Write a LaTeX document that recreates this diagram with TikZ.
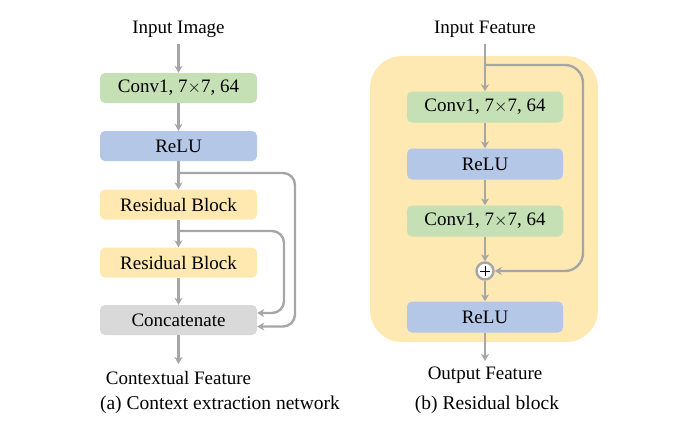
\documentclass[tikz,border=0pt]{standalone}
\usepackage{fontspec}
\setmainfont{Liberation Serif}
\usetikzlibrary{arrows.meta}
\definecolor{cgreen}{HTML}{C5E0B4}
\definecolor{cblue}{HTML}{B4C7E7}
\definecolor{cyellow}{HTML}{FFE9B0}
\definecolor{cbg}{HTML}{FEE9B3}
\definecolor{cgray}{HTML}{D9D9D9}
\definecolor{carrow}{HTML}{A6A6A6}
\tikzset{
  blk/.style={rounded corners=5pt, minimum width=157pt, minimum height=30pt, inner sep=0pt, font=\fontsize{19}{22}\selectfont, draw=none},
  lbl/.style={font=\fontsize{19}{22}\selectfont, inner sep=0pt},
  captxt/.style={font=\fontsize{19.5}{22}\selectfont, inner sep=0pt},
  arr/.style={draw=carrow, line width=2.4pt, -{Stealth[length=7pt,width=8pt,inset=2pt]}},
}
\begin{document}
\begin{tikzpicture}[x=1pt,y=-1pt]
\useasboundingbox (0,0) rectangle (679,431);
% ---------- left ----------
\node[lbl] (inimg) at (178.5,29) {Input Image};
\node[blk, fill=cgreen] (lc) at (178.5,88) {Conv1, 7$\times$7, 64};
\node[blk, fill=cblue] (lr) at (178.5,146) {ReLU};
\node[blk, fill=cyellow] (rb1) at (178.5,204.5) {Residual Block};
\node[blk, fill=cyellow] (rb2) at (178.5,262.5) {Residual Block};
\node[blk, fill=cgray] (cc) at (178.5,320) {Concatenate};
\node[lbl] (ctx) at (178.5,378) {Contextual Feature};
\node[captxt] (capa) at (220,405) {(a) Context extraction network};
\coordinate (s1) at (178.5,173);
\coordinate (s2) at (178.5,231);
\draw[arr] (178.5,44) -- (lc.north);
\draw[arr] (lc.south) -- (lr.north);
\draw[arr] (lr.south) -- (rb1.north);
\draw[arr] (rb1.south) -- (rb2.north);
\draw[arr] (rb2.south) -- (cc.north);
\draw[arr] (cc.south) -- (178.5,364);
\draw[arr, rounded corners=12pt] (s1) -- (295,173) -- (295,326.5) -- ([yshift=-6.5pt]cc.east);
\draw[arr, rounded corners=12pt] (s2) -- (284,231) -- (284,313) -- ([yshift=7pt]cc.east);
% ---------- right ----------
\fill[cbg, rounded corners=32pt] (370,56) rectangle (598,342);
\node[lbl] (infeat) at (485,29) {Input Feature};
\node[blk, fill=cgreen, minimum width=156pt, minimum height=31pt] (rc1) at (485,107) {Conv1, 7$\times$7, 64};
\node[blk, fill=cblue, minimum width=156pt, minimum height=31pt] (rr1) at (485,164) {ReLU};
\node[blk, fill=cgreen, minimum width=156pt, minimum height=31pt] (rc2) at (485,221) {Conv1, 7$\times$7, 64};
\node[circle, draw=carrow, line width=2.4pt, fill=white, minimum size=17pt, inner sep=0pt] (plus) at (485,271) {};
\draw[black, line width=0.8pt] (480,271) -- (490,271) (485,266) -- (485,276);
\node[blk, fill=cblue, minimum width=156pt, minimum height=31pt] (rr2) at (485,317) {ReLU};
\node[lbl] (outfeat) at (485,375) {Output Feature};
\node[captxt] (capb) at (487,405) {(b) Residual block};
\coordinate (s3) at (485,65);
\draw[arr] (485,44) -- (rc1.north);
\draw[arr] (rc1.south) -- (rr1.north);
\draw[arr] (rr1.south) -- (rc2.north);
\draw[arr] (rc2.south) -- (plus.north);
\draw[arr] (plus.south) -- (rr2.north);
\draw[arr] (rr2.south) -- (485,361);
\draw[arr, rounded corners=18pt] (s3) -- (583,65) -- (583,271) -- (plus.east);
\end{tikzpicture}
\end{document}
